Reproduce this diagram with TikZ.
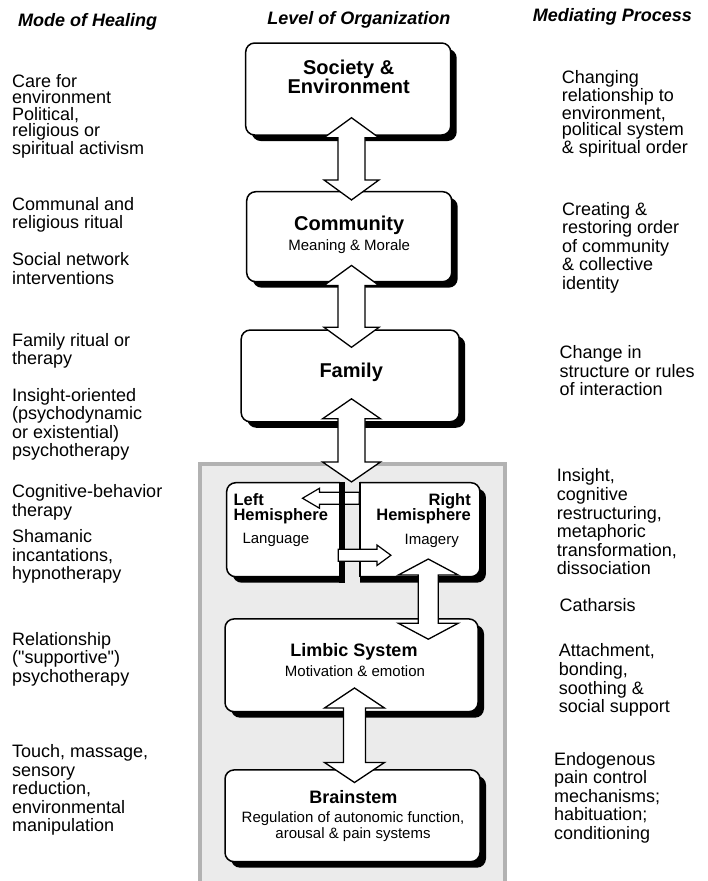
\documentclass[tikz,border=0pt]{standalone}
\usepackage{fontspec}
\setmainfont{Liberation Sans}
\usetikzlibrary{calc,shadows}
\definecolor{panelfill}{HTML}{EBEBEB}
\definecolor{panelline}{HTML}{B2B2B2}
\tikzset{
    level/.style={draw, line width=1.5pt, fill=white, rounded corners=9pt, inner sep=0pt,
        drop shadow={shadow xshift=6pt, shadow yshift=-6pt, fill=black, opacity=1}}, % boxes of the levels
    head/.style={anchor=base, inner sep=0pt, font=\fontsize{18}{20}\selectfont\bfseries\itshape},
    side/.style={anchor=north west, inner sep=0pt, align=left, font=\fontsize{18}{18.6}\selectfont},
    tight/.style={side, font=\fontsize{18}{16.4}\selectfont},
    title/.style={anchor=base, inner sep=0pt, font=\fontsize{20}{19.3}\selectfont\bfseries},
    subtitle/.style={anchor=base, inner sep=0pt, font=\fontsize{15}{15.5}\selectfont},
    % fat double arrow: half head width, half shaft width, head length
    fat arrow/.style n args={3}{draw, fill=white, line width=1.3pt,
        to path={let \p1=(\tikztostart), \p2=(\tikztotarget),
            \p3=($(\p1)!#3!(\p2)$), \p4=($(\p2)!#3!(\p1)$) in
            -- ($(\p3)!#1!90:(\p2)$) -- ($(\p3)!#2!90:(\p2)$)
            -- ($(\p4)!#2!-90:(\p1)$) -- ($(\p4)!#1!-90:(\p1)$) -- (\p2)
            -- ($(\p4)!#1!90:(\p1)$) -- ($(\p4)!#2!90:(\p1)$)
            -- ($(\p3)!#2!-90:(\p2)$) -- ($(\p3)!#1!-90:(\p2)$) -- cycle}},
    % single headed arrow inside the hemispheres
    thin arrow/.style n args={3}{draw, fill=white, line width=1.2pt,
        to path={let \p1=(\tikztostart), \p2=(\tikztotarget), \p3=($(\p2)!#3!(\p1)$) in
            -- ($(\p1)!#2!90:(\p2)$) -- ($(\p3)!#2!-90:(\p1)$) -- ($(\p3)!#1!-90:(\p1)$) -- (\p2)
            -- ($(\p3)!#1!90:(\p1)$) -- ($(\p3)!#2!90:(\p1)$) -- ($(\p1)!#2!-90:(\p2)$) -- cycle}}
}

\begin{document}
\begin{tikzpicture}[x=1pt, y=-1pt]
    \fill[white] (0,0) rectangle (707,881);
    \useasboundingbox (0,0) rectangle (707,881);

    % column heads
    \node[head, anchor=base west] (hmode) at (18,26.7) {Mode of Healing};
    \node[head] (hlevel) at (358.9,24) {Level of Organization};
    \node[head] (hproc) at (612.3,21.7) {Mediating Process};

    % grey panel of the brain levels
    \draw[panelline, fill=panelfill, line width=3.5pt] (200,464) rectangle (505,890);

    % levels
    \node[level, minimum width=205pt, minimum height=92pt] (soc) at (348.2,89) {};
    \node[level, minimum width=205pt, minimum height=90pt] (com) at (349.2,236.7) {};
    \node[level, minimum width=218pt, minimum height=91.7pt] (fam) at (350.2,375.9) {};
    \node[level, minimum width=253.3pt, minimum height=94pt] (hemi) at (353.3,529.7) {};
    \node[level, minimum width=253pt, minimum height=92.7pt] (lim) at (351.5,665.3) {};
    \node[level, minimum width=255pt, minimum height=91.7pt] (brain) at (352.5,815.8) {};

    % split of the two hemispheres
    \fill[panelfill] (339.5,481) rectangle (360,584);
    \draw[thin arrow={10pt}{6pt}{17pt}] ($(hemi.north west)+(133.3,16.3)$) to ($(hemi.north west)+(76.6,16.3)$);
    \fill[black] (338.5,482) rectangle (345,582.7);
    \draw[line width=1.5pt] (360,481.95) -- (360,577.45);
    \draw[thin arrow={10.3pt}{6pt}{14pt}] ($(hemi.north west)+(112.3,73.3)$) to ($(hemi.north west)+(165,73.3)$);

    % arrows between the levels
    \coordinate (axis) at (351.5,0);
    \coordinate (raxis) at (428.3,0);
    \coordinate (laxis) at (354.5,0);
    \draw[fat arrow={27.5pt}{13.5pt}{20pt}] ($(axis |- soc.south)+(0,-18)$) to ($(axis |- com.north)+(0,9)$);
    \draw[fat arrow={27.5pt}{13.5pt}{20pt}] ($(axis |- com.south)+(0,-17)$) to ($(axis |- fam.north)+(0,18)$);
    \draw[fat arrow={29pt}{13.5pt}{20pt}] ($(axis |- fam.south)+(0,-23.7)$) to (axis |- hemi.north);
    \draw[fat arrow={30pt}{10pt}{16pt}] ($(raxis |- hemi.south)+(0,-18.4)$) to ($(raxis |- lim.north)+(0,21)$);
    \draw[fat arrow={30pt}{11pt}{20pt}] ($(laxis |- lim.south)+(0,-24.4)$) to ($(laxis |- brain.north)+(0,13.3)$);

    % texts of the levels
    \node[title, anchor=north, align=center] (soct) at (348.7,59.4) {Society \&\\Environment};
    \node[title] (comt) at (349.2,230.7) {Community};
    \node[subtitle] (coms) at (349.2,250) {Meaning \& Morale};
    \node[title] (famt) at (351.2,377.3) {Family};
    \node[title, anchor=north west, align=left, font=\fontsize{16.5}{15.6}\selectfont\bfseries] (leftt) at (233.3,493) {Left\\Hemisphere};
    \node[title, anchor=north east, align=right, font=\fontsize{16.5}{15.6}\selectfont\bfseries] (rightt) at (471,493) {Right\\Hemisphere};
    \node[subtitle, anchor=base west] (lang) at (242.3,543.3) {Language};
    \node[subtitle] (imag) at (431.7,544) {Imagery};
    \node[title, font=\fontsize{18}{20}\selectfont\bfseries] (limt) at (354,656) {Limbic System};
    \node[subtitle] (lims) at (355,676.7) {Motivation \& emotion};
    \node[title, font=\fontsize{18}{20}\selectfont\bfseries] (brat) at (353.3,803.3) {Brainstem};
    \node[subtitle, anchor=north, align=center] (bras) at (353,811.6) {Regulation of autonomic function,\\arousal \& pain systems};

    % modes of healing
    \node[tight] (care) at (12,74.2) {Care for\\environment\\Political,\\religious or\\spiritual activism};
    \node[side] (communal) at (12,196.9) {Communal and\\religious ritual};
    \node[side] (social) at (12,252.6) {Social network\\interventions};
    \node[side] (famrit) at (12,332.9) {Family ritual or\\therapy};
    \node[side] (insight) at (12,387.9) {Insight-oriented\\(psychodynamic\\or existential)\\psychotherapy};
    \node[side] (cogn) at (12,484.2) {Cognitive-behavior\\therapy};
    \node[side] (sham) at (12,529.2) {Shamanic\\incantations,\\hypnotherapy};
    \node[side] (relat) at (12,631.9) {Relationship\\(\textquotedbl supportive\textquotedbl)\\psychotherapy};
    \node[side] (touch) at (12,744.2) {Touch, massage,\\sensory\\reduction,\\environmental\\manipulation};

    % mediating processes
    \node[tight] (chang) at (561.7,70.2) {Changing\\relationship to\\environment,\\political system\\\& spiritual order};
    \node[side] (creat) at (562,201.9) {Creating \&\\restoring order\\of community\\\& collective\\identity};
    \node[side] (chg) at (559.3,345.2) {Change in\\structure or rules\\of interaction};
    \node[side] (insr) at (556.7,468.6) {Insight,\\cognitive\\restructuring,\\metaphoric\\transformation,\\dissociation};
    \node[side] (cath) at (559.3,598.6) {Catharsis};
    \node[side] (attach) at (558.7,643.6) {Attachment,\\bonding,\\soothing \&\\social support};
    \node[side] (endo) at (554,751.9) {Endogenous\\pain control\\mechanisms;\\habituation;\\conditioning};
\end{tikzpicture}
\end{document}
